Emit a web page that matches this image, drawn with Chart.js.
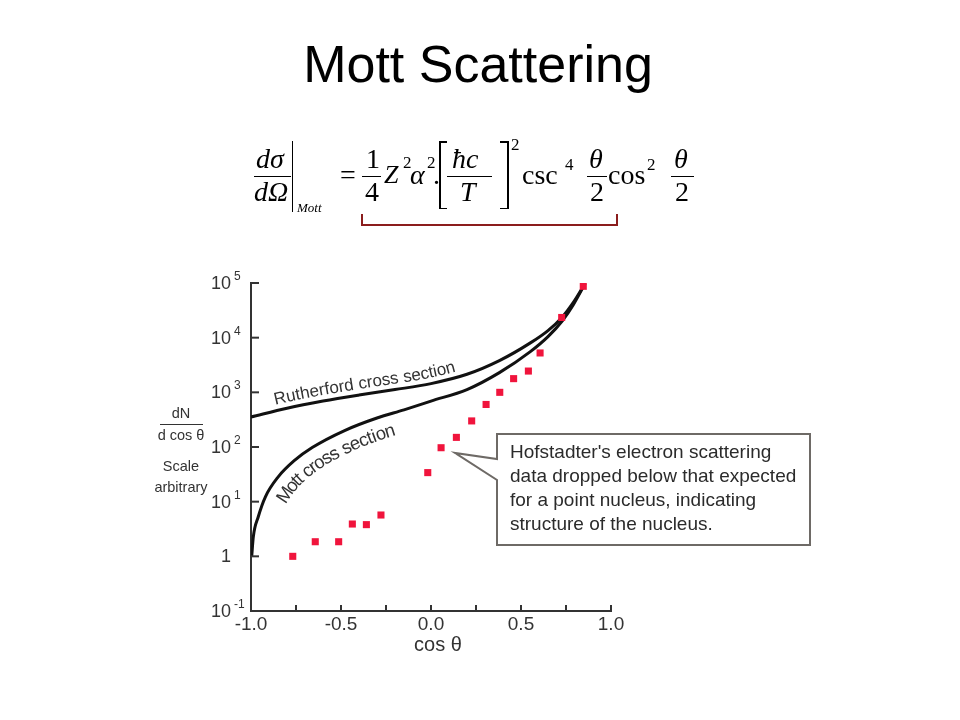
<!DOCTYPE html>
<html>
<head>
<meta charset="utf-8">
<title>Mott Scattering</title>
<script src="https://cdn.jsdelivr.net/npm/chart.js@4"></script>
<style>
  html, body { margin: 0; padding: 0; background: #fff; }
  #page { position: relative; width: 960px; height: 720px; overflow: hidden; }
  #mott { position: absolute; left: 0; top: 0; }
  #title { position: absolute; left: 0; top: 38px; width: 956px; text-align: center;
           font: 52px/52px "Liberation Sans", Arial, sans-serif; color: #000; }
  .f { position: absolute; white-space: nowrap; color: #000; font-family: "Liberation Serif", "Times New Roman", serif; }
  .bar { position: absolute; background: #000; }
</style>
</head>
<body>
<div id="page">
  <canvas id="mott" width="960" height="720"></canvas>
  <div id="title">Mott Scattering</div>
  <div id="formula"></div>
</div>
<script>
// values
const cosRutherford = [-1, -0.8, -0.6, -0.4, -0.2, 0, 0.2, 0.38, 0.55, 0.65, 0.73, 0.79, 0.856];
const rutherford = [355, 513, 692, 891, 1122, 1445, 2138, 3802, 7943, 13490, 23988, 43652, 97724];

const cosMott = [-0.996, -0.987, -0.96, -0.92, -0.85, -0.76, -0.66, -0.48, -0.3, -0.15, 0, 0.2, 0.38, 0.55, 0.65, 0.73, 0.79, 0.856];
const mott = [1, 2.29, 5.25, 12.3, 28.2, 56.2, 97.7, 200, 339, 479, 692, 1122, 2291, 5495, 10471, 20417, 39811, 97724];

const cosData = [-0.768, -0.643, -0.513, -0.437, -0.359, -0.278, -0.018, 0.056, 0.141, 0.226, 0.306, 0.382, 0.459, 0.541, 0.606, 0.726, 0.846];
const hofstadter = [1.0, 1.85, 1.85, 3.9, 3.8, 5.7, 34, 97, 150, 300, 600, 1000, 1780, 2450, 5250, 23400, 87000];

const xTicks = [-0.75, -0.5, -0.25, 0, 0.25, 0.5, 0.75, 1.0];
const xLabelValues = [-1, -0.5, 0, 0.5, 1];
const xLabels = ['-1.0', '-0.5', '0.0', '0.5', '1.0'];
const yExponents = [-1, 0, 1, 2, 3, 4, 5];

const calloutLines = [
    "Hofstadter's electron scattering",
    'data dropped below that expected',
    'for a point nucleus, indicating',
    'structure of the nucleus.'
];
const calloutTip = { x: 0.133, y: 78 };

const ink = '#333';
const sans = '"Liberation Sans", Arial, sans-serif';

// ---- formula (html text) ----
const formulaEl = document.getElementById('formula');
function put(txt, x, base, size, italic) {
    const d = document.createElement('div');
    d.className = 'f';
    d.textContent = txt;
    d.style.left = x + 'px';
    d.style.top = (base - size * 0.8375) + 'px';
    d.style.fontSize = size + 'px';
    d.style.lineHeight = size + 'px';
    if (italic) d.style.fontStyle = 'italic';
    formulaEl.appendChild(d);
}
function rule(x, y, w, h, color) {
    const d = document.createElement('div');
    d.className = 'bar';
    d.style.left = x + 'px'; d.style.top = y + 'px';
    d.style.width = w + 'px'; d.style.height = h + 'px';
    if (color) d.style.background = color;
    formulaEl.appendChild(d);
}
const F = 28, S = 17;
put('dσ', 256, 168, F, true);
rule(254, 175.5, 37, 1.2);
put('dΩ', 254, 201, F, true);
rule(291.5, 141, 1.5, 71);
put('Mott', 297, 212, 13, true);
put('=', 340, 184, F);
put('1', 366, 168, F);
rule(362, 175.5, 19, 1.2);
put('4', 365, 201, F);
put('Z', 384, 184, 26, true);
put('2', 403, 168, S);
put('α', 410, 184, F, true);
put('2', 427, 168, S);
put('.', 433, 184, F);
// brackets
rule(439, 141, 1.5, 68); rule(439, 141, 8, 1.5); rule(439, 207.5, 8, 1.5);
rule(507, 141, 1.5, 68); rule(500, 141, 8, 1.5); rule(500, 207.5, 8, 1.5);
put('ħc', 452, 168, F, true);
rule(447, 175.5, 45, 1.2);
put('T', 460, 201, F, true);
put('2', 511, 150, S);
put('csc', 522, 184, F);
put('4', 565, 170, S);
put('θ', 589, 168, F, true);
rule(587, 175.5, 20, 1.2);
put('2', 590, 201, F);
put('cos', 608, 184, F);
put('2', 647, 170, S);
put('θ', 674, 168, F, true);
rule(671, 175.5, 23, 1.2);
put('2', 675, 201, F);
// dark red under-bracket
rule(361, 214, 1.5, 11, '#8b1d1d');
rule(616, 214, 1.5, 11, '#8b1d1d');
rule(361, 224, 257, 1.5, '#8b1d1d');

// ---- helpers for drawing text along a curve ----
function sampleCurve(els) {
    const out = [];
    for (let i = 0; i < els.length - 1; i++) {
        const a = els[i], b = els[i + 1];
        const c1x = a.cp2x ?? a.x, c1y = a.cp2y ?? a.y;
        const c2x = b.cp1x ?? b.x, c2y = b.cp1y ?? b.y;
        for (let k = 0; k < 24; k++) {
            const t = k / 24, u = 1 - t;
            out.push({
                x: u * u * u * a.x + 3 * u * u * t * c1x + 3 * u * t * t * c2x + t * t * t * b.x,
                y: u * u * u * a.y + 3 * u * u * t * c1y + 3 * u * t * t * c2y + t * t * t * b.y
            });
        }
    }
    const last = els[els.length - 1];
    out.push({ x: last.x, y: last.y });
    return out;
}

function textAlongCurve(ctx, els, text, startX, offset) {
    const pts = sampleCurve(els);
    const dist = [0];
    for (let i = 1; i < pts.length; i++) {
        dist.push(dist[i - 1] + Math.hypot(pts[i].x - pts[i - 1].x, pts[i].y - pts[i - 1].y));
    }
    let i0 = pts.findIndex(p => p.x >= startX);
    if (i0 < 0) i0 = 0;
    let s = dist[i0];
    const at = d => {
        let i = 1;
        while (i < pts.length - 1 && dist[i] < d) i++;
        const p = pts[i - 1], q = pts[i];
        const f = (d - dist[i - 1]) / ((dist[i] - dist[i - 1]) || 1);
        return { x: p.x + (q.x - p.x) * f, y: p.y + (q.y - p.y) * f, a: Math.atan2(q.y - p.y, q.x - p.x) };
    };
    for (const ch of text) {
        const w = ctx.measureText(ch).width;
        const p = at(s + w / 2);
        ctx.save();
        ctx.translate(p.x, p.y);
        ctx.rotate(p.a);
        ctx.fillText(ch, -w / 2, offset);
        ctx.restore();
        s += w;
    }
}

// ---- plugins: axes decoration and annotations ----
const axisDecor = {
    id: 'axisDecor',
    afterDraw(chart) {
        const { ctx, scales: { x, y } } = chart;
        ctx.save();
        ctx.strokeStyle = ink;
        ctx.lineWidth = 2;
        ctx.fillStyle = ink;

        yExponents.forEach(e => {
            const py = y.getPixelForValue(Math.pow(10, e));
            ctx.beginPath();
            ctx.moveTo(x.left, py);
            ctx.lineTo(x.left + 8, py);
            ctx.stroke();
            ctx.textBaseline = 'alphabetic';
            if (e === 0) {
                ctx.font = '18px ' + sans;
                ctx.textAlign = 'right';
                ctx.fillText('1', 231, py + 6);
            } else {
                ctx.font = '18px ' + sans;
                ctx.textAlign = 'right';
                ctx.fillText('10', 231, py + 6);
                ctx.font = '12px ' + sans;
                ctx.textAlign = 'left';
                ctx.fillText(e < 0 ? '-' + Math.abs(e) : String(e), 234, py - 3);
            }
        });

        xTicks.forEach(v => {
            const px = x.getPixelForValue(v);
            ctx.beginPath();
            ctx.moveTo(px, y.bottom);
            ctx.lineTo(px, y.bottom - 6);
            ctx.stroke();
        });
        ctx.font = '19px ' + sans;
        ctx.textAlign = 'center';
        xLabelValues.forEach((v, i) => {
            ctx.fillText(xLabels[i], x.getPixelForValue(v), y.bottom + 19);
        });
        ctx.font = '20px ' + sans;
        ctx.fillText('cos θ', 438, 651);

        // y axis title
        ctx.font = '14.5px ' + sans;
        ctx.fillText('dN', 181, 418);
        ctx.beginPath();
        ctx.lineWidth = 1;
        ctx.moveTo(160, 424.5);
        ctx.lineTo(203, 424.5);
        ctx.stroke();
        ctx.fillText('d cos θ', 181, 440);
        ctx.fillText('Scale', 181, 471);
        ctx.fillText('arbitrary', 181, 492);
        ctx.restore();
    }
};

const annotate = {
    id: 'annotate',
    afterDraw(chart) {
        const { ctx, scales: { x, y } } = chart;
        ctx.save();
        ctx.fillStyle = ink;
        ctx.textAlign = 'left';
        ctx.textBaseline = 'alphabetic';
        ctx.font = '17px ' + sans;
        textAlongCurve(ctx, chart.getDatasetMeta(1).data, 'Rutherford cross section', 276, -6);
        ctx.font = '18.5px ' + sans;
        textAlongCurve(ctx, chart.getDatasetMeta(2).data, 'Mott cross section', 267, 22);

        // callout box with pointer
        const tx = x.getPixelForValue(calloutTip.x);
        const ty = y.getPixelForValue(calloutTip.y);
        const L = 497, T = 434, R = 810, B = 545;
        ctx.beginPath();
        ctx.moveTo(L, T);
        ctx.lineTo(R, T);
        ctx.lineTo(R, B);
        ctx.lineTo(L, B);
        ctx.lineTo(L, 480);
        ctx.lineTo(tx, ty);
        ctx.lineTo(L, 459);
        ctx.closePath();
        ctx.fillStyle = '#fff';
        ctx.fill();
        ctx.strokeStyle = '#6e6a66';
        ctx.lineWidth = 2;
        ctx.stroke();

        ctx.fillStyle = '#2b2b2b';
        ctx.font = '19px ' + sans;
        calloutLines.forEach((line, i) => ctx.fillText(line, 510, 458 + i * 24));
        ctx.restore();
    }
};

const ctx = document.getElementById('mott').getContext('2d');

const chart = new Chart(ctx, {
    type: 'scatter',
    data: {
        datasets: [
            {
                label: 'Hofstadter data',
                data: cosData.map((c, i) => ({ x: c, y: hofstadter[i] })),
                pointStyle: 'rect',
                pointRadius: 5,
                pointBackgroundColor: '#f0143c',
                pointBorderWidth: 0
            },
            {
                label: 'Rutherford cross section',
                data: cosRutherford.map((c, i) => ({ x: c, y: rutherford[i] })),
                showLine: true,
                borderColor: '#111',
                borderWidth: 3,
                pointRadius: 0,
                cubicInterpolationMode: 'monotone'
            },
            {
                label: 'Mott cross section',
                data: cosMott.map((c, i) => ({ x: c, y: mott[i] })),
                showLine: true,
                borderColor: '#111',
                borderWidth: 3,
                pointRadius: 0,
                cubicInterpolationMode: 'monotone'
            }
        ]
    },
    options: {
        responsive: false,
        animation: false,
        events: [],
        layout: { padding: { left: 251, right: 349, top: 283, bottom: 109 } },
        plugins: {
            legend: { display: false },
            tooltip: { enabled: false }
        },
        scales: {
            x: {
                type: 'linear',
                min: -1,
                max: 1,
                ticks: { display: false },
                grid: { display: false },
                border: { display: true, color: ink, width: 2 },
                afterFit: s => { s.height = 0; }
            },
            y: {
                type: 'logarithmic',
                min: 0.1,
                max: 100000,
                ticks: { display: false },
                grid: { display: false },
                border: { display: true, color: ink, width: 2 },
                afterFit: s => { s.width = 0; }
            }
        }
    },
    plugins: [axisDecor, annotate]
});
</script>
</body>
</html>
